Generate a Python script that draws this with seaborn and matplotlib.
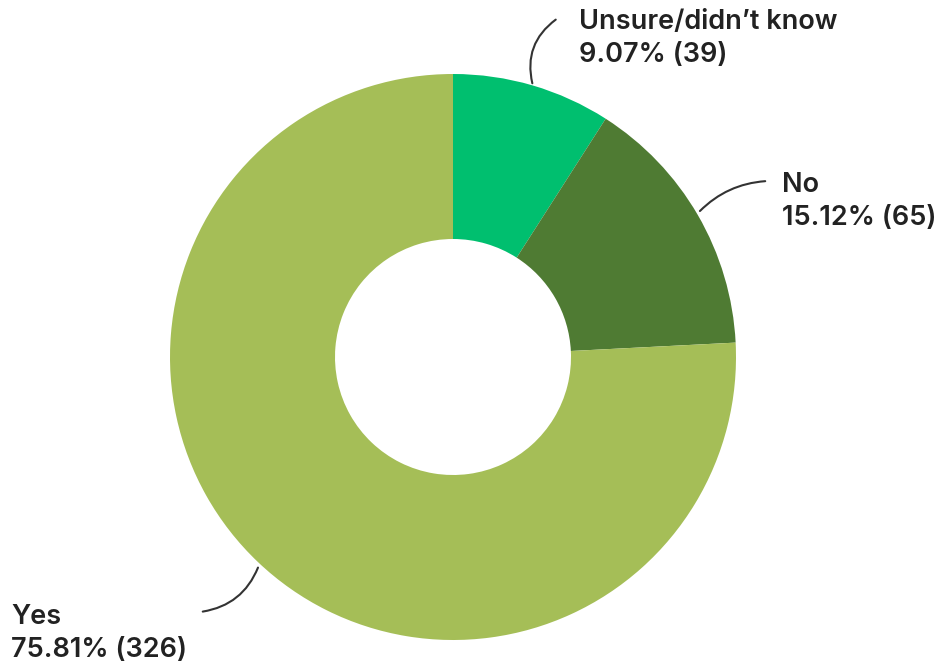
import matplotlib
matplotlib.use("Agg")
import matplotlib.pyplot as plt
import seaborn as sns

labels = ["Unsure/didn’t know", "No", "Yes"]
percents = [9.07, 15.12, 75.81]
counts = [39, 65, 326]
colors = ["#00BF6F", "#4F7B33", "#A5BE57"]

sns.set_theme(style="white")
plt.rcParams['font.family'] = ['Inter', 'DejaVu Sans']

W, H = 936, 663
fig = plt.figure(figsize=(W / 100, H / 100), dpi=100)
ax = fig.add_axes([0, 0, 1, 1])

cx, cy = 453, H - 357
R, r = 283, 118
ax.pie(percents, colors=sns.color_palette(colors), startangle=90, counterclock=False,
       center=(cx, cy), radius=R, wedgeprops=dict(width=R - r, linewidth=0),
       frame=True)
ax.set_xlim(0, W)
ax.set_ylim(0, H)
ax.set_aspect('equal')
ax.axis('off')

txt = dict(fontsize=19.5, fontweight='semibold', color='#222222', ha='left', va='center')
# label positions (pixels, top-origin): name line, value line, leader start, leader end, rad
specs = [
    ((579, 22), (579, 55), (533, 86), (558, 18), -0.35),
    ((782, 185), (782, 218), (698, 213), (768, 181), -0.2),
    ((11, 617), (11, 650), (259, 565), (200, 612), -0.3),
]
for (n, v, s, e, rad), lab, p, c in zip(specs, labels, percents, counts):
    ax.text(n[0], H - n[1], lab, **txt)
    ax.text(v[0], H - v[1], f"{p:.2f}% ({c})", **txt)
    ax.annotate("", xy=(e[0], H - e[1]), xytext=(s[0], H - s[1]),
                arrowprops=dict(arrowstyle='-', color='#333333', lw=1.5,
                                connectionstyle=f"arc3,rad={rad}"))

fig.savefig("out.png", dpi=100)
